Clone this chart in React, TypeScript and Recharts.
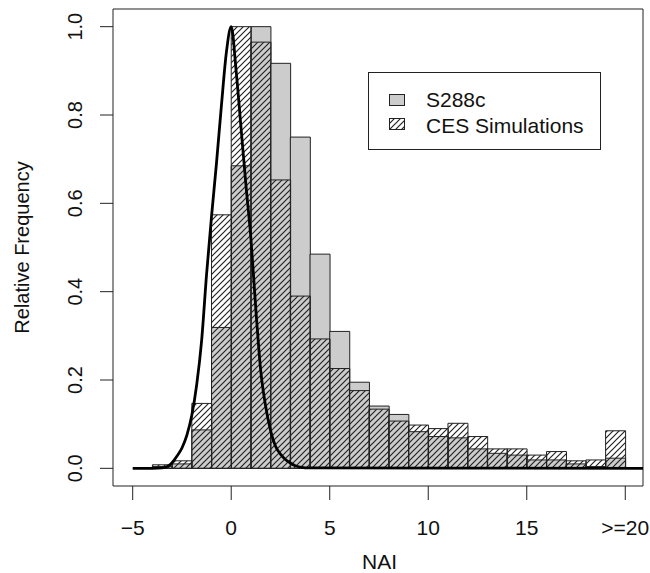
import { Bar, ComposedChart, Line, ReferenceArea, XAxis, YAxis } from "recharts";

// histogram bins, each bar spans [bin, bin + 1]
const BINS = [-6, -5, -4, -3, -2, -1, 0, 1, 2, 3, 4, 5, 6, 7, 8, 9, 10, 11, 12, 13, 14, 15, 16, 17, 18, 19];
const S288C = [
  0, 0, 0.004, 0.01, 0.087, 0.319, 0.685, 1.0, 0.917, 0.75, 0.485, 0.31, 0.195, 0.141, 0.122, 0.083, 0.072,
  0.069, 0.044, 0.034, 0.03, 0.019, 0.019, 0.01, 0.004, 0.023,
];
const CES = [
  0, 0, 0.008, 0.017, 0.147, 0.574, 1.0, 0.965, 0.653, 0.39, 0.293, 0.226, 0.176, 0.134, 0.107, 0.098, 0.09,
  0.102, 0.072, 0.044, 0.044, 0.03, 0.038, 0.017, 0.019, 0.085,
];

// the black density curve
const CURVE_X = [
  -5, -4, -3.5, -3.25, -3, -2.75, -2.5, -2.25, -2, -1.75, -1.5, -1.25, -1, -0.75, -0.5, -0.25, 0, 0.25, 0.5,
  0.75, 1, 1.25, 1.5, 1.75, 2, 2.25, 2.5, 2.75, 3, 3.25, 3.5, 4, 20.9,
];
const CURVE_Y = [
  0, 0, 0.001, 0.004, 0.013, 0.028, 0.046, 0.075, 0.12, 0.19, 0.29, 0.44, 0.57, 0.69, 0.82, 0.94, 1.0, 0.9,
  0.77, 0.64, 0.52, 0.36, 0.22, 0.14, 0.085, 0.05, 0.032, 0.02, 0.012, 0.006, 0.003, 0.001, 0,
];

const X_TICKS = [-5, 0, 5, 10, 15, 20];
const Y_TICKS = [0, 0.2, 0.4, 0.6, 0.8, 1.0];

const FONT = "'Liberation Sans', Arial, Helvetica, sans-serif";
const INK = "#222";
const GREY = "#cccccc";

const histData = BINS.map((bin, i) => ({ bin, s288c: S288C[i], ces: CES[i] }));
const curveData = CURVE_X.map((x, i) => ({ x, y: CURVE_Y[i] }));

function XTick({ x, payload }: any) {
  const v = payload.value;
  const label = v === 20 ? ">=20" : v < 0 ? `\u2212${Math.abs(v)}` : String(v);
  return (
    <text x={x} y={534.5} textAnchor="middle" fontFamily={FONT} fontSize={21} fill="#111">
      {label}
    </text>
  );
}

function YTick({ y, payload }: any) {
  return (
    <text
      x={75}
      y={y}
      transform={`rotate(-90, 75, ${y})`}
      textAnchor="middle"
      dominantBaseline="central"
      fontFamily={FONT}
      fontSize={20}
      fill="#111"
    >
      {payload.value.toFixed(1)}
    </text>
  );
}

function Swatch({ hatched }: { hatched?: boolean }) {
  return (
    <svg width={16} height={12} style={{ display: "block" }}>
      <rect x={0.5} y={0.5} width={15} height={11} fill={hatched ? "url(#hatch)" : GREY} stroke={INK} />
    </svg>
  );
}

export default function App() {
  return (
    <div style={{ position: "absolute", left: 0, top: 0, width: 650, height: 573, background: "#fff" }}>
      <ComposedChart
        width={650}
        height={573}
        data={histData}
        margin={{ top: 9, right: 7, bottom: 0, left: 0 }}
        barCategoryGap={0}
        barGap={0}
      >
        <XAxis
          xAxisId="num"
          dataKey="x"
          type="number"
          domain={[-6, 20.9]}
          ticks={X_TICKS}
          allowDataOverflow
          height={87}
          axisLine={false}
          tickSize={14}
          tickLine={{ stroke: INK }}
          tick={<XTick />}
        />
        <XAxis xAxisId="binA" dataKey="bin" type="category" hide height={0} padding={{ left: 0, right: 17.7 }} />
        <XAxis xAxisId="binB" dataKey="bin" type="category" hide height={0} padding={{ left: 0, right: 17.7 }} />
        <YAxis
          type="number"
          domain={[-0.04, 1.04]}
          ticks={Y_TICKS}
          allowDataOverflow
          width={113}
          axisLine={false}
          tickSize={13}
          tickLine={{ stroke: INK }}
          tick={<YTick />}
        />
        <ReferenceArea
          xAxisId="num"
          x1={-6}
          x2={20.9}
          y1={-0.04}
          y2={1.04}
          fill="none"
          stroke={INK}
          strokeWidth={1}
          ifOverflow="visible"
        />
        <Bar xAxisId="binA" dataKey="s288c" fill={GREY} stroke={INK} strokeWidth={1} isAnimationActive={false} />
        <Bar xAxisId="binB" dataKey="ces" fill="url(#hatch)" stroke={INK} strokeWidth={1} isAnimationActive={false} />
        <Line
          xAxisId="num"
          data={curveData}
          dataKey="y"
          type="monotone"
          stroke="#000"
          strokeWidth={2.8}
          dot={false}
          activeDot={false}
          isAnimationActive={false}
        />
      </ComposedChart>

      <svg
        width={650}
        height={573}
        style={{ position: "absolute", left: 0, top: 0, pointerEvents: "none" }}
      >
        <defs>
          <pattern id="hatch" patternUnits="userSpaceOnUse" width={6} height={6}>
            <path d="M-1,1 l2,-2 M0,6 l6,-6 M5,7 l2,-2" stroke={INK} strokeWidth={1.2} />
          </pattern>
        </defs>
        <text x={379.5} y={569.3} textAnchor="middle" fontFamily={FONT} fontSize={21} fill="#111">
          NAI
        </text>
        <text
          x={21.5}
          y={247.5}
          transform="rotate(-90, 21.5, 247.5)"
          textAnchor="middle"
          dominantBaseline="central"
          fontFamily={FONT}
          fontSize={20}
          fill="#111"
        >
          Relative Frequency
        </text>
      </svg>

      <div
        style={{
          position: "absolute",
          left: 368,
          top: 72,
          width: 231,
          height: 76,
          border: `1px solid ${INK}`,
          fontFamily: FONT,
          fontSize: 21,
          color: "#111",
        }}
      >
        <div style={{ position: "absolute", left: 20, top: 21 }}>
          <Swatch />
        </div>
        <div style={{ position: "absolute", left: 57, top: 15, lineHeight: "24px" }}>S288c</div>
        <div style={{ position: "absolute", left: 20, top: 45 }}>
          <Swatch hatched />
        </div>
        <div style={{ position: "absolute", left: 57, top: 41, lineHeight: "24px" }}>CES Simulations</div>
      </div>
    </div>
  );
}
